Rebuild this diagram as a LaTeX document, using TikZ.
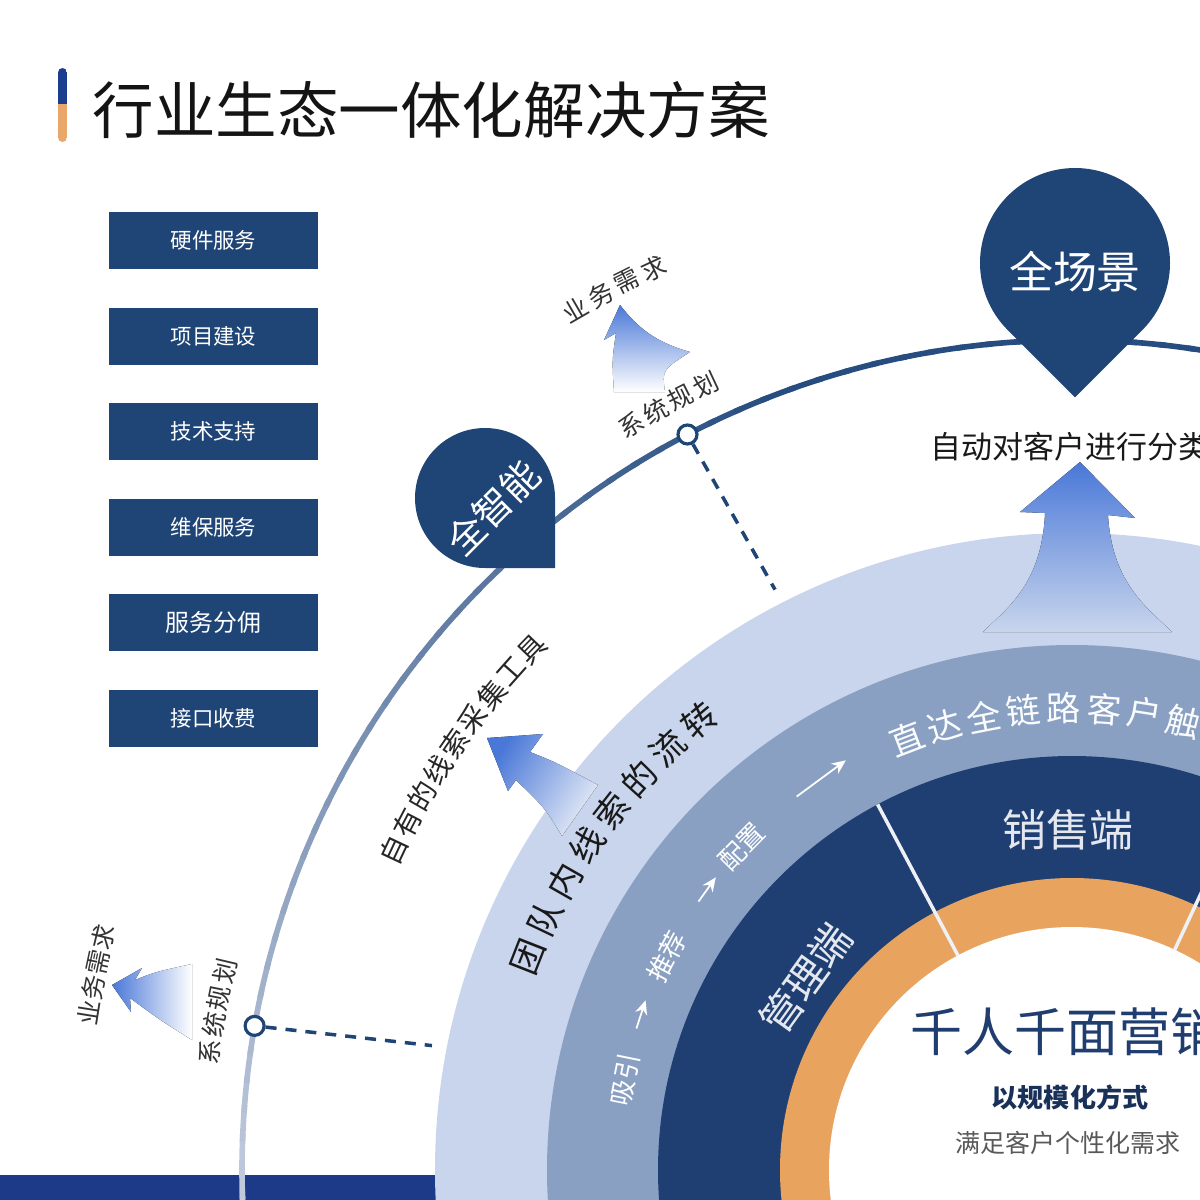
\documentclass[tikz,border=0pt]{standalone}
\usepackage{fontspec}
\setmainfont{Noto Sans CJK SC}
\usetikzlibrary{calc,arrows.meta}

\definecolor{navy}{HTML}{1F4476}
\definecolor{bandlight}{HTML}{C8D5EC}
\definecolor{bandmid}{HTML}{8AA0C2}
\definecolor{banddark}{HTML}{1F3F73}
\definecolor{ringorange}{HTML}{E8A35E}
\definecolor{stripblue}{HTML}{1C3A87}
\definecolor{arclight}{HTML}{C5CEE0}
\definecolor{arcdark}{HTML}{274D80}
\definecolor{fadeblue}{HTML}{4A78D8}
\definecolor{barblue}{HTML}{1D3D8F}
\definecolor{barorange}{HTML}{E9A76A}
\definecolor{centernavy}{HTML}{1F3D6E}

% characters set one by one along a circle round (O)
\newcommand\arcchars[6]{%
  \foreach \ch [count=\i from 0] in {#6}
    \node[#4, rotate={#1-#2*\i-90}] (#5\i) at ($(O)+({#1-#2*\i}:#3)$) {\ch};
}

\begin{document}
\begin{tikzpicture}[x=0.01cm, y=0.01cm,
  servbox/.style={fill=navy, text=white, minimum width=2.09cm, minimum height=0.57cm, inner sep=0pt},
  sysdot/.style={circle, draw=navy, line width=0.9pt, fill=white, minimum size=0.19cm, inner sep=0pt},
  outtxt/.style={text=black!80, inner sep=0pt, font=\fontsize{7.1}{8}\selectfont},
  tooltxt/.style={text=black!85, inner sep=0pt, font=\fontsize{8}{9}\selectfont},
  flowtxt/.style={text=black!90, inner sep=0pt, font=\fontsize{9.8}{11}\selectfont},
  bandtxt/.style={text=white!96!bandmid, inner sep=0pt, font=\fontsize{9.8}{11}\selectfont},
  stagetxt/.style={text=white, inner sep=0pt, font=\fontsize{7.5}{9}\selectfont},
  endtxt/.style={text=white!88!banddark, inner sep=0pt},
  sepline/.style={white!92!banddark, line width=1pt},
  flowarrow/.style={white, line width=0.5pt, -{Stealth[length=4pt, width=3.5pt]}},
  linkline/.style={navy, line width=1pt, dash pattern=on 0.11cm off 0.09cm}
]
\useasboundingbox (0,0) rectangle (1200,-1200);
\clip (0,0) rectangle (1200,-1200);
\coordinate (O) at (1072,-1170);

% title
\begin{scope}
  \clip[rounded corners=0.045cm] (58,-68) rectangle (67,-142);
  \fill[barblue] (58,-68) rectangle (67,-104);
  \fill[barorange] (58,-104) rectangle (67,-142);
\end{scope}
\node[anchor=west, inner sep=0pt, text=black!92, font=\fontsize{17.5}{19}\selectfont] (title) at (92,-110) {行业生态一体化解决方案};

% service boxes
\foreach \t/\s [count=\i] in {硬件服务/6.1,项目建设/6.1,技术支持/6.1,维保服务/6.1,服务分佣/6.8,接口收费/6.1}
  \node[servbox, font=\fontsize{\s}{8}\selectfont] (box\i) at (213.5,{-240.5-95.6*(\i-1)}) {\t};

% bottom strip and outer arc
\fill[stripblue] (0,-1175) rectangle (700,-1200);
\foreach \a in {0,...,52} {
  \pgfmathsetmacro\mix{min(100,\a*2.8)}
  \draw[arcdark!\mix!arclight, line width=1.6pt] ($(O)+({184-2*\a}:830)$) arc[start angle={184-2*\a}, end angle={181.5-2*\a}, radius=830];
}

% planning points
\node[sysdot] (sys1) at ($(O)+(117.6:830)$) {};
\node[sysdot] (sys2) at ($(O)+(170:830)$) {};
\coordinate (end1) at ($(O)+(117.1:652)$);
\coordinate (end2) at ($(O)+(169:652)$);
\draw[linkline] (sys1) -- (end1);
\draw[linkline] (sys2) -- (end2);

% rings
\fill[bandlight] (O) circle[radius=637];
\fill[bandmid] (O) circle[radius=525];
\fill[banddark] (O) circle[radius=414];
\fill[ringorange] (O) circle[radius=292];
\fill[white] (O) circle[radius=243];
\draw[sepline] ($(O)+(118:243)$) -- ($(O)+(118:414)$);
\draw[sepline] ($(O)+(65:243)$) -- ($(O)+(65:414)$);

% pins
\fill[navy] (1075,-263) ++(-45:95) arc[start angle=-45, end angle=225, radius=95] -- (1075,-397.4) -- cycle;
\node[text=white, font=\fontsize{12.5}{14}\selectfont] (scene) at (1075,-272) {全场景};
\fill[navy] (485,-498) ++(0:70) arc[start angle=0, end angle=270, radius=70] -- (555,-568) -- cycle;
\node[text=white, rotate=45, font=\fontsize{10.8}{12}\selectfont] (smart) at (493,-508) {全智能};

% fading arrows
\fill[top color=fadeblue, bottom color=white] (620,-305) -- (604,-340) -- (616,-333) .. controls (612,-360) .. (614,-392) -- (665,-392) .. controls (662,-370) .. (690,-352) .. controls (655,-342) and (638,-328) .. (620,-305) -- cycle;
\fill[top color=fadeblue, bottom color=bandlight!50!white, shading angle=58] (487,-738) -- (543,-734) -- (530,-752) .. controls (555,-762) .. (598,-785) -- (562,-836) .. controls (545,-808) .. (516,-780) -- (508,-791) -- cycle;
\fill[top color=fadeblue, bottom color=bandlight] (1080,-462) -- (1135,-518) -- (1108,-515) .. controls (1112,-585) and (1150,-610) .. (1172,-632) -- (983,-632) .. controls (1005,-610) and (1042,-585) .. (1045,-513) -- (1020,-512) -- cycle;
\fill[left color=fadeblue, right color=white] (112,-985) -- (142,-968) -- (135,-980) .. controls (155,-972) .. (192,-964) -- (192,-1040) .. controls (160,-1020) .. (130,-998) -- (131,-1012) -- cycle;

% labels outside the rings
\node[anchor=west, inner sep=0pt, text=black!90, font=\fontsize{8.8}{10}\selectfont] (classify) at (930,-447) {自动对客户进行分类};
\arcchars{120.6}{1.87}{866}{outtxt}{plana}{系,统,规,划}
\arcchars{120}{1.7}{994}{outtxt}{needa}{业,务,需,求}
\arcchars{172.2}{1.8}{870}{outtxt}{planb}{系,统,规,划}
\arcchars{170.9}{1.47}{996}{outtxt}{needb}{业,务,需,求}
\arcchars{154.8}{2.35}{750}{tooltxt}{tool}{自,有,的,线,索,采,集,工,具}

% labels in the rings
\arcchars{158.6}{4.14}{584}{flowtxt}{flow}{团,队,内,线,索,的,流,转}
\node[stagetxt, rotate=78.6] (attract) at ($(O)+(168.6:456)$) {吸引};
\node[stagetxt, rotate=62.2] (recommend) at ($(O)+(152.2:458)$) {推荐};
\node[stagetxt, rotate=45.6] (config) at ($(O)+(135.6:462)$) {配置};
\coordinate (s1) at ($(O)+(162:458)$);
\coordinate (t1) at ($(O)+(158.3:459)$);
\coordinate (s2) at ($(O)+(144.3:460)$);
\coordinate (t2) at ($(O)+(140.6:461)$);
\coordinate (s3) at ($(O)+(126.4:464)$);
\coordinate (t3) at ($(O)+(118.9:468)$);
\draw[flowarrow] (s1) -- (t1);
\draw[flowarrow] (s2) -- (t2);
\draw[flowarrow] (s3) -- (t3);
\arcchars{111}{5}{462}{bandtxt}{reach}{直,达,全,链,路,客,户,触}
\node[endtxt, font=\fontsize{12.5}{14}\selectfont] (sales) at (1068,-830) {销售端};
\node[endtxt, rotate=54.3, font=\fontsize{11.7}{13}\selectfont] (admin) at ($(O)+(144.3:328)$) {管理端};

% centre
\node[anchor=west, inner sep=0pt, text=centernavy, font=\fontsize{14.8}{16}\selectfont] (core) at (910,-1032) {千人千面营销};
\node[inner sep=0pt, text=centernavy!80!black, font=\bfseries\fontsize{7.4}{9}\selectfont] (scale) at (1070,-1097) {以规模化方式};
\node[inner sep=0pt, text=black!65, font=\fontsize{7.1}{8}\selectfont] (demand) at (1068,-1143) {满足客户个性化需求};
\end{tikzpicture}
\end{document}
